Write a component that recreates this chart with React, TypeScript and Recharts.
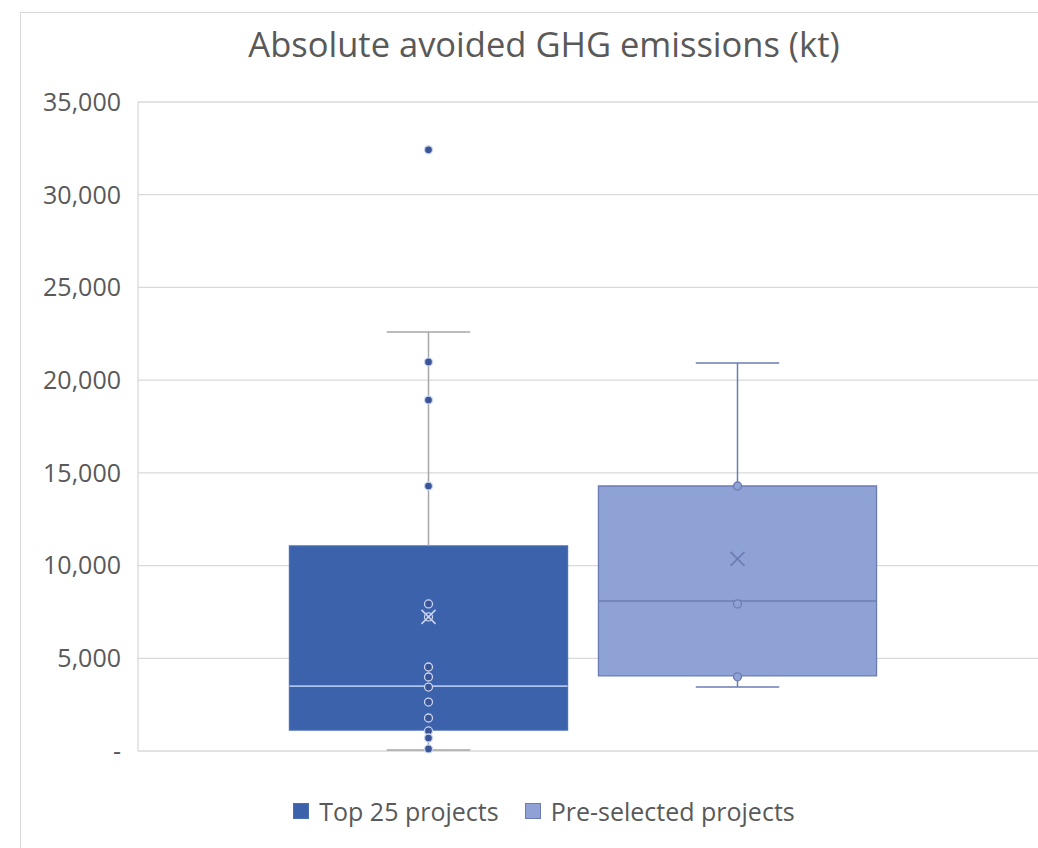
import {
  ComposedChart,
  XAxis,
  YAxis,
  CartesianGrid,
  ReferenceArea,
  ReferenceLine,
  Scatter,
} from 'recharts';

// box statistics, one entry per series
const seriesNames = ['Top 25 projects', 'Pre-selected projects'];
const seriesFills = ['#3b62ab', '#8ea2d5'];
const q1 = [1130, 4050];
const medians = [3500, 8090];
const q3 = [11060, 14290];
const whiskerLow = [50, 3450];
const whiskerHigh = [22600, 20930];
const means = [7230, 10360];

// individual project values (kt)
const top25Points = [32420, 20980, 18930, 14290, 7930, 7230, 4530, 3990, 3450, 2640, 1780, 1080, 700, 110];
const preselectedPoints = [14290, 7930, 4000];

const yTicks = [0, 5000, 10000, 15000, 20000, 25000, 30000, 35000];

const BOX_HALF = 0.45;
const CAP_HALF = 0.135;
const FONT = "'Open Sans', 'Noto Sans', sans-serif";
const TEXT = '#595959';

const edgeColors = ['#4a6fb6', '#6b7cb4'];
const medianColors = ['#aec3ec', '#6b7cb4'];
const whiskerColors = ['#a6a6a6', '#6b7cb4'];
const markerFills = ['#3a5495', '#8ea2d5'];
const markerStrokes = ['#c9d6f0', '#6b7cb4'];
const meanColors = ['#c8d3ee', '#6b7cb4'];

const pointSets = [top25Points, preselectedPoints].map((vals, i) =>
  vals.map((v) => ({ x: i, y: v }))
);

const formatTick = (v: number) => (v === 0 ? '-' : v.toLocaleString('en-US'));

function makeDot(fill: string, stroke: string) {
  return (props: any) => (
    <circle cx={props.cx} cy={props.cy} r={4} fill={fill} stroke={stroke} strokeWidth={1.3} />
  );
}

function makeCross(color: string) {
  return (props: any) => {
    const { cx, cy } = props;
    const s = 7;
    return (
      <g stroke={color} strokeWidth={1.6}>
        <line x1={cx - s} y1={cy - s} x2={cx + s} y2={cy + s} />
        <line x1={cx - s} y1={cy + s} x2={cx + s} y2={cy - s} />
      </g>
    );
  };
}

export default function App() {
  return (
    <div
      style={{
        position: 'fixed',
        left: 0,
        top: 0,
        width: 1038,
        height: 848,
        overflow: 'hidden',
        background: '#fff',
        fontFamily: FONT,
      }}
    >
      <div
        style={{
          position: 'absolute',
          left: 20,
          top: 12,
          width: 1046,
          height: 870,
          border: '1px solid #d9d9d9',
          background: '#fff',
        }}
      >
        <div
          style={{
            position: 'absolute',
            top: 14,
            left: 0,
            width: 1046,
            textAlign: 'center',
            fontSize: 34.5,
            color: TEXT,
            lineHeight: 1,
          }}
        >
          Absolute avoided GHG emissions (kt)
        </div>

        <div style={{ position: 'absolute', left: 0, top: 0 }}>
          <ComposedChart width={1046} height={850} margin={{ top: 89, right: 20, bottom: 112, left: 17 }}>
            <CartesianGrid vertical={false} stroke="#d9d9d9" strokeWidth={1.3} />
            <XAxis
              dataKey="x"
              type="number"
              domain={[-0.5, 1.5]}
              padding={{ left: 136, right: 155 }}
              hide
            />
            <YAxis
              type="number"
              domain={[0, 35000]}
              ticks={yTicks}
              width={100}
              interval={0}
              tickFormatter={formatTick}
              axisLine={{ stroke: '#d9d9d9', strokeWidth: 1.3 }}
              tickLine={false}
              tickMargin={11}
              tick={{ fill: TEXT, fontSize: 25, fontFamily: FONT }}
            />

            {seriesNames.map((_, i) => (
              <ReferenceArea
                key={`box-${i}`}
                x1={i - BOX_HALF}
                x2={i + BOX_HALF}
                y1={q1[i]}
                y2={q3[i]}
                fill={seriesFills[i]}
                fillOpacity={1}
                stroke={edgeColors[i]}
                strokeWidth={1.3}
              />
            ))}

            {seriesNames.map((_, i) => [
              <ReferenceLine
                key={`wu-${i}`}
                segment={[{ x: i, y: q3[i] }, { x: i, y: whiskerHigh[i] }]}
                stroke={whiskerColors[i]}
                strokeWidth={1.5}
              />,
              <ReferenceLine
                key={`wl-${i}`}
                segment={[{ x: i, y: whiskerLow[i] }, { x: i, y: q1[i] }]}
                stroke={whiskerColors[i]}
                strokeWidth={1.5}
              />,
              <ReferenceLine
                key={`cu-${i}`}
                segment={[{ x: i - CAP_HALF, y: whiskerHigh[i] }, { x: i + CAP_HALF, y: whiskerHigh[i] }]}
                stroke={whiskerColors[i]}
                strokeWidth={1.5}
              />,
              <ReferenceLine
                key={`cl-${i}`}
                segment={[{ x: i - CAP_HALF, y: whiskerLow[i] }, { x: i + CAP_HALF, y: whiskerLow[i] }]}
                stroke={whiskerColors[i]}
                strokeWidth={1.5}
              />,
              <ReferenceLine
                key={`med-${i}`}
                segment={[{ x: i - BOX_HALF, y: medians[i] }, { x: i + BOX_HALF, y: medians[i] }]}
                stroke={medianColors[i]}
                strokeWidth={1.6}
              />,
            ])}

            {pointSets.map((pts, i) => (
              <Scatter
                key={`pts-${i}`}
                name={seriesNames[i]}
                data={pts}
                dataKey="y"
                shape={makeDot(markerFills[i], markerStrokes[i])}
                isAnimationActive={false}
              />
            ))}

            {seriesNames.map((_, i) => (
              <Scatter
                key={`mean-${i}`}
                data={[{ x: i, y: means[i] }]}
                dataKey="y"
                shape={makeCross(meanColors[i])}
                isAnimationActive={false}
              />
            ))}
          </ComposedChart>
        </div>

        <div
          style={{
            position: 'absolute',
            top: 781,
            left: 0,
            width: 1046,
            display: 'flex',
            justifyContent: 'center',
            alignItems: 'center',
            gap: 26,
            fontSize: 25,
            color: TEXT,
          }}
        >
          {seriesNames.map((name, i) => (
            <div key={name} style={{ display: 'flex', alignItems: 'center', gap: 10 }}>
              <span
                style={{
                  display: 'inline-block',
                  width: 14,
                  height: 14,
                  background: seriesFills[i],
                  border: `1px solid ${edgeColors[i]}`,
                }}
              />
              <span>{name}</span>
            </div>
          ))}
        </div>
      </div>
    </div>
  );
}
